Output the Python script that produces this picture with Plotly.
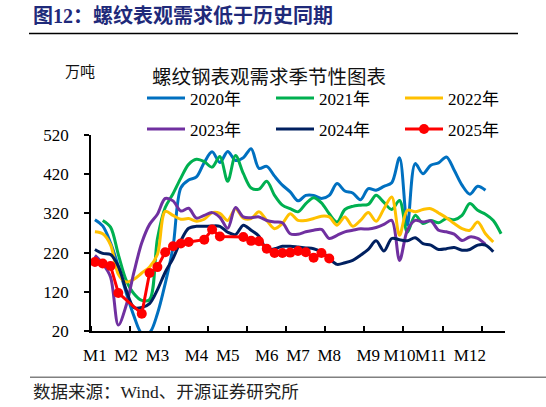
import plotly.graph_objects as go

weeks = list(range(53))
months = ["M1", "M2", "M3", "M4", "M5", "M6", "M7", "M8", "M9", "M10", "M11", "M12"]
month_weeks = [0, 4, 8, 13, 17, 22, 26, 30, 35, 39, 43, 48]
y_ticks = [20, 120, 220, 320, 420, 520]

s2020 = [304, 288, 245, 185, 118, 58, 14, 16, 64, 141, 234, 385, 405, 413, 450, 477, 450, 478, 455, 462,
         485, 435, 440, 415, 392, 375, 352, 366, 366, 358, 366, 396, 377, 372, 355, 383, 379, 389, 398, 462,
         290, 447, 421, 443, 449, 464, 430, 392, 369, 389, 379, None, None]
s2021 = [None, 302, 285, 215, 150, 115, 98, 100, 255, 335, 370, 410, 445, 458, 452, 438, 465, 402, 468, 422,
         385, 382, 402, 366, 341, 332, 324, 345, 360, 347, 319, 298, 330, 338, 341, 343, 366, 348, 330, 353,
         272, 315, 294, 302, 296, 307, 304, 315, 345, 328, 318, 302, 268]
s2022 = [273, 268, 240, 165, 145, 152, 168, 183, 215, 325, 315, 305, 307, 300, 305, 322, 320, 302, 332, 308,
         307, 324, 302, 281, 294, 319, 302, 302, 307, 313, 311, 290, 311, 287, 302, 322, 300, 332, 362, 264,
         328, 324, 330, 332, 321, 309, 294, 281, 277, 298, 268, 247, None]
s2023 = [213, 192, 158, 35, 85, 170, 245, 292, 318, 358, 352, 326, 333, 308, 315, 322, 310, 282, 335, 311,
         309, 311, 302, 298, 296, 268, 267, 273, 277, 279, 256, 264, 273, 277, 281, 280, 284, 292, 302, 200,
         277, 302, 298, 301, 277, 273, 267, 251, 260, 256, 241, None, None]
s2024 = [228, 218, 215, 185, 125, 80, 80, 90, 125, 170, 205, 250, 282, 287, 287, 288, 287, 272, 266, 290,
         277, 262, 228, 230, 236, 236, 234, 232, 230, 222, 205, 190, 194, 200, 213, 228, 250, 224, 256, 253,
         250, 258, 243, 239, 228, 230, 233, 226, 228, 239, 239, 222, None]
s2025 = [196, 192, 186, 117, None, None, 64, 168, 183, 221, 236, 243, 247, None, 253, 279, 261, None, None, 260,
         250, 249, 230, 219, 219, 220, 224, 221, 207, 219, 205] + [None] * 22

series = [
    ("2020年", s2020, "#0070C0", "legend"),
    ("2021年", s2021, "#00B050", "legend"),
    ("2022年", s2022, "#FFC000", "legend"),
    ("2023年", s2023, "#7030A0", "legend2"),
    ("2024年", s2024, "#002060", "legend2"),
]

# plot-area geometry (pixels)
L, R, T, B = 91, 505, 134.5, 330.7
W, H = 546, 407


def px(xp):
    return (xp - L) / (R - L)


def py(yp):
    return (B - yp) / (B - T)


SERIF = "Liberation Serif, Noto Sans CJK SC"
CJK = "Noto Sans CJK SC"

fig = go.Figure()
for name, vals, color, lg in series:
    fig.add_trace(go.Scatter(
        x=weeks, y=vals, name=name, mode="lines", legend=lg,
        line=dict(color=color, width=3, shape="spline", smoothing=0.9),
        connectgaps=False,
    ))
fig.add_trace(go.Scatter(
    x=weeks, y=s2025, name="2025年", mode="lines+markers", legend="legend2",
    line=dict(color="#FF0000", width=3),
    marker=dict(color="#FF0000", size=10),
    connectgaps=True,
))

legend_common = dict(
    orientation="h", xanchor="left", yanchor="middle",
    font=dict(family=SERIF, size=17, color="#000"),
    itemwidth=38, entrywidth=76, bgcolor="rgba(0,0,0,0)",
    itemclick=False, itemdoubleclick=False,
)

fig.update_layout(
    width=W, height=H,
    margin=dict(l=L, r=W - R, t=T, b=H - B, pad=0),
    paper_bgcolor="white", plot_bgcolor="white",
    showlegend=True,
    legend=dict(x=px(142), y=py(98), **legend_common),
    legend2=dict(x=px(142), y=py(129), **legend_common),
    xaxis=dict(
        range=[-0.5, 52.5], showgrid=False, zeroline=False,
        showline=True, linecolor="#000", linewidth=1.5,
        tickmode="array", tickvals=month_weeks, ticktext=months,
        ticks="", ticklabelstandoff=8, tickangle=0,
        tickfont=dict(family=SERIF, size=17, color="#000"),
        minor=dict(tickmode="linear", tick0=4.5, dtick=5, ticks="inside",
                   ticklen=5, tickwidth=1.5, tickcolor="#000", showgrid=False),
    ),
    yaxis=dict(
        range=[20, 520], showgrid=False, zeroline=False,
        showline=True, linecolor="#000", linewidth=1.5,
        tickmode="array", tickvals=y_ticks,
        ticks="outside", ticklen=5, tickwidth=1.5, tickcolor="#000",
        ticklabelstandoff=12,
        tickfont=dict(family=SERIF, size=17, color="#000"),
    ),
    shapes=[
        dict(type="line", xref="paper", yref="paper", x0=px(29), x1=px(518), y0=py(33), y1=py(33),
             line=dict(color="#000", width=1.5)),
        dict(type="line", xref="paper", yref="paper", x0=px(30), x1=px(546), y0=py(377), y1=py(377),
             line=dict(color="#808080", width=1.5)),
    ],
    annotations=[
        dict(text="<b>图12：螺纹表观需求低于历史同期</b>", x=px(31), y=py(15), xref="paper", yref="paper",
             xanchor="left", yanchor="middle", showarrow=False,
             font=dict(family=SERIF, size=20, color="#1F2A7A")),
        dict(text="螺纹钢表观需求季节性图表", x=px(150), y=py(75), xref="paper", yref="paper",
             xanchor="left", yanchor="middle", showarrow=False,
             font=dict(family=CJK, size=19.5, color="#111")),
        dict(text="万吨", x=px(63), y=py(70), xref="paper", yref="paper",
             xanchor="left", yanchor="middle", showarrow=False,
             font=dict(family=CJK, size=15, color="#111")),
        dict(text="数据来源：Wind、开源证券研究所", x=px(31), y=py(392), xref="paper", yref="paper",
             xanchor="left", yanchor="middle", showarrow=False,
             font=dict(family=SERIF, size=17.5, color="#222")),
    ],
)

fig.write_html("out.html", config={"displayModeBar": False},
               post_script="document.body.style.margin='0';document.body.style.overflow='hidden';")
